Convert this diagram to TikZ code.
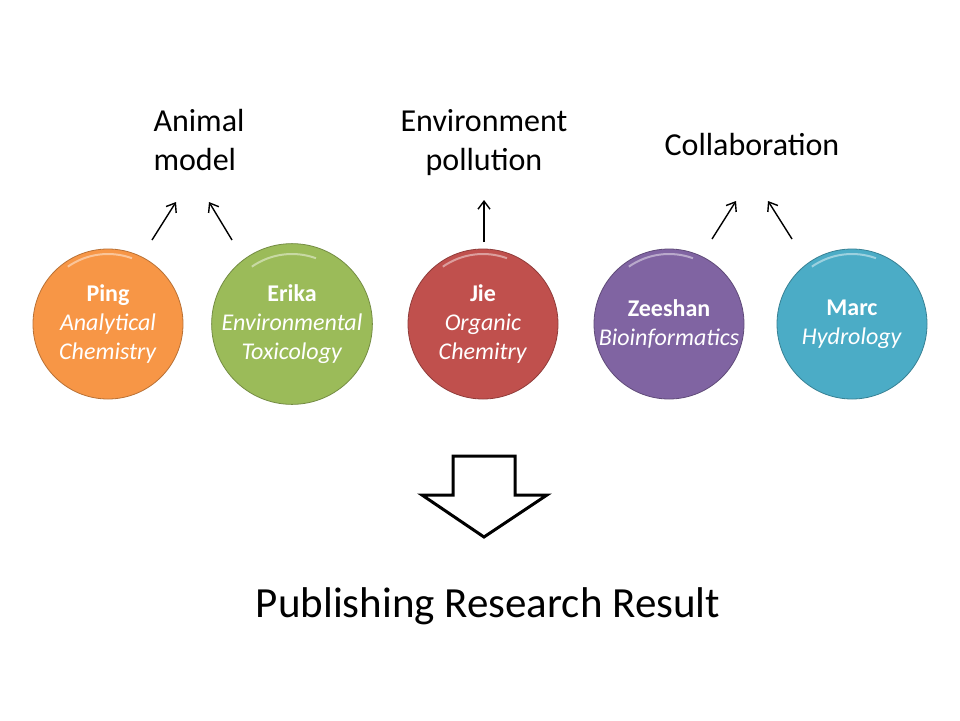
\documentclass[tikz,border=0pt]{standalone}
\usepackage{fontspec}
\setmainfont{Carlito}
\usepackage{xcolor}
\usepackage{tikz}
\usetikzlibrary{arrows,arrows.meta,backgrounds,calc}
\definecolor{pingcol}{HTML}{F79646}
\definecolor{erikacol}{HTML}{9BBB59}
\definecolor{jiecol}{HTML}{C0504D}
\definecolor{zeeshancol}{HTML}{8064A2}
\definecolor{marccol}{HTML}{4BACC6}
\tikzset{
  member/.style={circle, minimum size=150pt, inner sep=0pt, fill=#1, draw=#1!75!black,
    line width=0.8pt, text=white, align=center, font=\fontsize{24}{29}\selectfont},
  topic/.style={font=\fontsize{32}{39}\selectfont},
  link/.style={-{Straight Barb[length=8pt,width=12pt]}, line width=1.4pt}
}

\begin{document}
\begin{tikzpicture}[x=1pt,y=-1pt]
\useasboundingbox[fill=white] (0,0) rectangle (960,720);
% researchers
\node[member=pingcol] (ping) at (108,324) {\textbf{Ping}\\\textit{Analytical}\\\textit{Chemistry}};
\node[member=erikacol] (erika) at (292,324) {\textbf{Erika}\\\textit{Environmental}\\\textit{Toxicology}};
\node[member=jiecol] (jie) at (483,324) {\textbf{Jie}\\\textit{Organic}\\\textit{Chemitry}};
\node[member=zeeshancol] (zeeshan) at (669,324) {\textbf{Zeeshan}\\\textit{Bioinformatics}};
\node[member=marccol] (marc) at (852,324) {\textbf{Marc}\\\textit{Hydrology}};
% gloss on top
\foreach \who in {ping,erika,jie,zeeshan,marc}
  \draw[white, opacity=0.45, line width=2pt] ($(\who)+(-125:70)$) arc[start angle=-125, end angle=-70, radius=70];
% topics
\node[topic, anchor=west, align=left] (animal) at (150,140) {Animal\\model};
\node[topic, align=center] (pollution) at (484,143) {Environment\\pollution};
\node[topic] (collab) at (752,145) {Collaboration};
\coordinate (animalL) at (176,202);
\coordinate (animalR) at (209,202);
\coordinate (pollutionB) at (484,200);
\coordinate (collabL) at (736,201);
\coordinate (collabR) at (768,201);
\draw[link] ($(ping)+(44,-84)$) -- (animalL);
\draw[link] ($(erika)+(-60,-84)$) -- (animalR);
\draw[link] ($(jie)+(1,-82)$) -- (pollutionB);
\draw[link] ($(zeeshan)+(43,-85)$) -- (collabL);
\draw[link] ($(marc)+(-60,-85)$) -- (collabR);
% block arrow
\draw[line width=3pt, line join=miter, fill=white] (453,456) -- (515,456) -- (515,495) -- (547,495)
  -- (484,537) -- (422,495) -- (453,495) -- cycle;
\node[font=\fontsize{43}{52}\selectfont] (result) at (488,606) {Publishing Research Result};
\end{tikzpicture}
\end{document}
